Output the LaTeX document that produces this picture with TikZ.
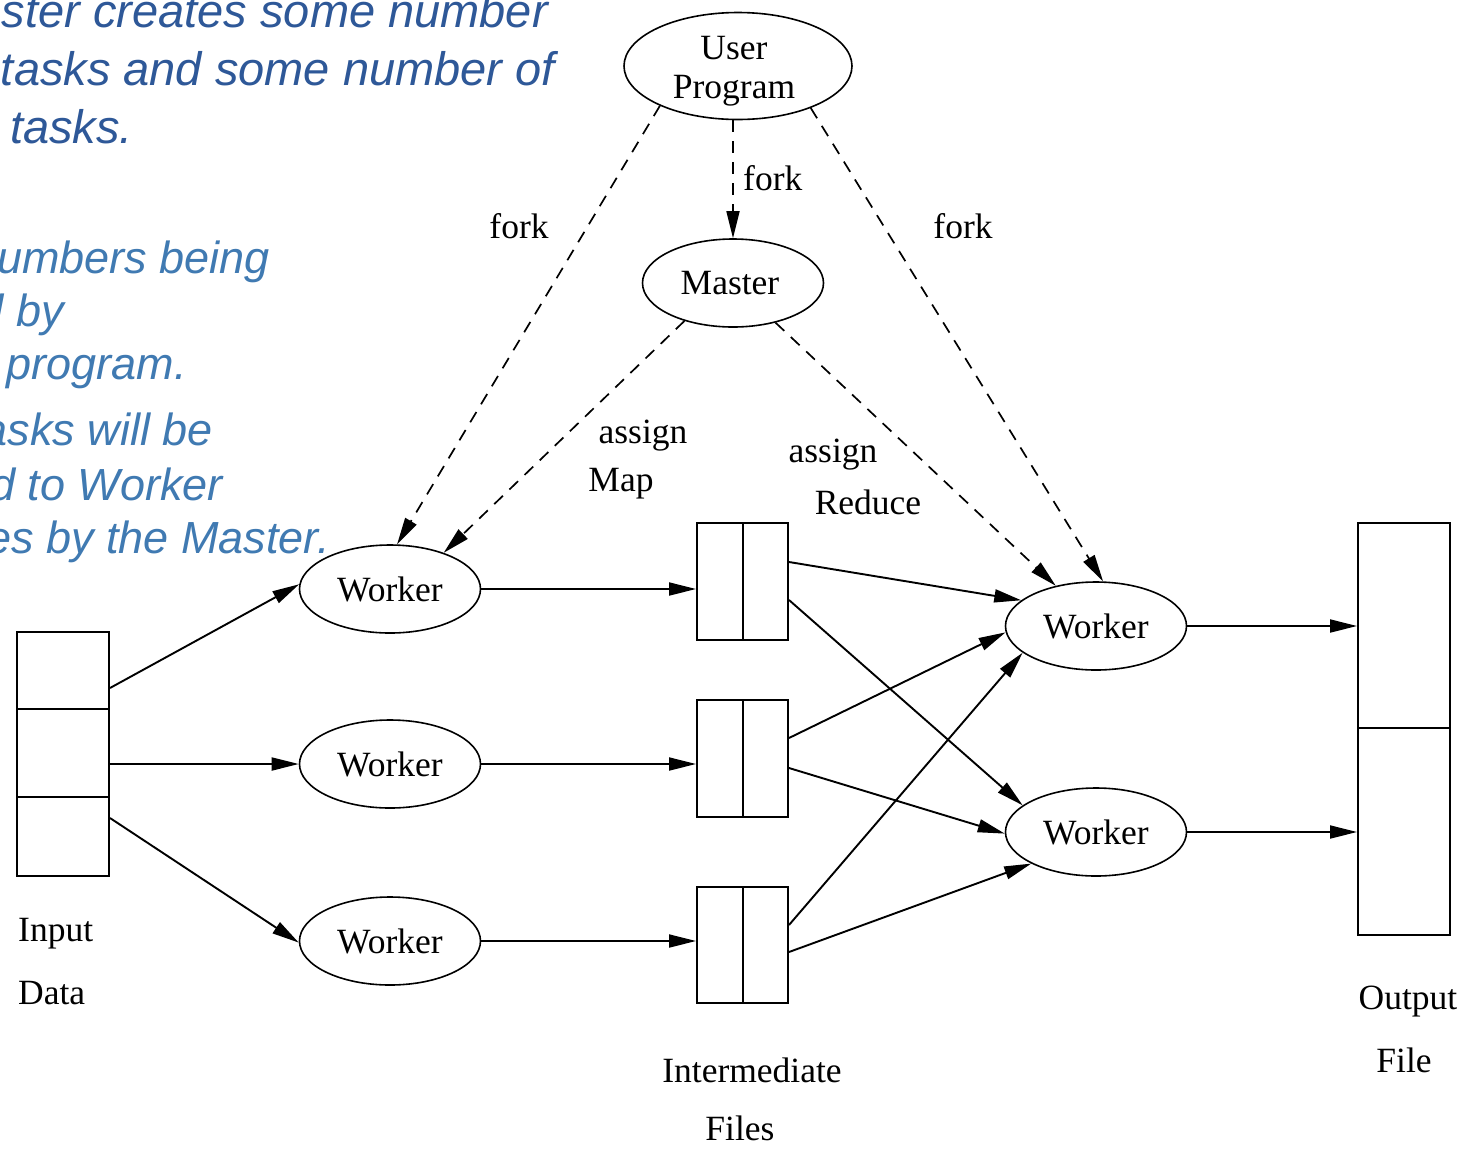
\documentclass[tikz,border=0pt]{standalone}
\usepackage{fontspec}
\setmainfont{Liberation Serif}
\newfontfamily\notefont{Liberation Sans}
\usetikzlibrary{arrows.meta,shapes.geometric}
\definecolor{noteblue}{RGB}{46,88,152}
\definecolor{notebluelight}{RGB}{64,122,178}

\begin{document}
\begin{tikzpicture}[x=1pt,y=-1pt,
  lbl/.style={font=\fontsize{35.5}{39}\selectfont, inner sep=0pt},
  proc/.style={draw, ellipse, line width=1.6pt, inner sep=0pt,
               minimum width=181pt, minimum height=88pt,
               font=\fontsize{35.5}{39}\selectfont},
  store/.style={draw, rectangle, line width=2pt, inner sep=0pt, minimum width=91pt},
  flow/.style={line width=1.9pt, -{Triangle[length=27pt,width=13pt]}},
  ctrl/.style={line width=1.7pt, dash pattern=on 12pt off 9pt,
               -{Triangle[length=27pt,width=13pt]}},
  note/.style={anchor=base east, inner sep=0pt,
               font=\notefont\itshape\fontsize{47}{56}\selectfont, text=noteblue},
  notelow/.style={note, font=\notefont\itshape\fontsize{45}{54}\selectfont, text=notebluelight}
]
\useasboundingbox (0,0) rectangle (1470,1152);
\clip (0,0) rectangle (1470,1152);
\fill[white] (0,0) rectangle (1470,1152);

% explanatory notes on the left
\node[note] (n1) at (548,27)  {ster creates some number};
\node[note] (n2) at (555,85)  {tasks and some number of};
\node[note] (n3) at (133,143) {tasks.};
\node[notelow] (n4) at (270,273) {umbers being};
\node[notelow] (n5) at (64,326)  {d by};
\node[notelow] (n6) at (187,379) {program.};
\node[notelow] (n7) at (213,445) {asks will be};
\node[notelow] (n8) at (223,500) {d to Worker};
\node[notelow] (n9) at (330,553) {es by the Master.};

% processes
\node[proc, minimum width=228pt, minimum height=107pt] (up) at (738,66) {};
\node[lbl, align=center] (uptext) at (734,71) {User\\Program};
\node[proc] (master) at (733,283) {\hspace*{-6pt}Master};
\node[proc] (w1) at (390,589) {Worker};
\node[proc] (w2) at (390,764) {Worker};
\node[proc] (w3) at (390,941) {Worker};
\node[proc] (r1) at (1096,626) {Worker};
\node[proc] (r2) at (1096,832) {Worker};

% input data
\node[store, minimum width=92pt, minimum height=77pt] (in1) at (63,670.5) {};
\node[store, minimum width=92pt, minimum height=88pt] (in2) at (63,753) {};
\node[store, minimum width=92pt, minimum height=79pt] (in3) at (63,836.5) {};

% intermediate files
\node[store, minimum height=117pt] (f1) at (742.5,581.5) {};
\node[store, minimum height=117pt] (f2) at (742.5,758.5) {};
\node[store, minimum height=116pt] (f3) at (742.5,945) {};
\foreach \f in {f1,f2,f3} \draw[line width=2pt] (\f.north) -- (\f.south);

% output file
\node[store, minimum width=92pt, minimum height=205pt] (out1) at (1404,625.5) {};
\node[store, minimum width=92pt, minimum height=207pt] (out2) at (1404,831.5) {};

% fork and assign
\draw[ctrl] (up.south -| master.north) -- (master.north);
\draw[ctrl] (up.207) -- (w1.81);
\draw[ctrl] (up.330) -- (r1.81);
\draw[ctrl] (master.218) -- (w1.34);
\draw[ctrl] (master.317) -- (r1.135);

\node[lbl] (lfork1) at (519,226) {fork};
\node[lbl, anchor=west] (lfork2) at (743,178) {fork};
\node[lbl] (lfork3) at (963,226) {fork};
\node[lbl] (lassign1) at (643,436) {assign};
\node[lbl] (lmap) at (621,484) {Map};
\node[lbl] (lassign2) at (833,455) {assign};
\node[lbl] (lreduce) at (868,502) {Reduce};

% map phase
\draw[flow] ([yshift=-17.5pt]in1.east) -- (w1.177);
\draw[flow] (w2.west -| in2.east) -- (w2.west);
\draw[flow] ([yshift=18.5pt]in3.east) -- (w3.181);
\draw[flow] (w1.east) -- (w1.east -| f1.west);
\draw[flow] (w2.east) -- (w2.east -| f2.west);
\draw[flow] (w3.east) -- (w3.east -| f3.west);

% shuffle to reduce workers
\draw[flow] ([yshift=19.5pt]f1.east) -- (r1.161);
\draw[flow] ([yshift=-18.5pt]f1.east) -- (r2.160);
\draw[flow] ([yshift=20.5pt]f2.east) -- (r1.184);
\draw[flow] ([yshift=-9.5pt]f2.east) -- (r2.181);
\draw[flow] ([yshift=20pt]f3.east) -- (r1.200);
\draw[flow] ([yshift=-7pt]f3.east) -- (r2.206);

% reduce output
\draw[flow] (r1.east) -- (r1.east -| out1.west);
\draw[flow] (r2.east) -- (r2.east -| out2.west);

% captions
\node[lbl, anchor=west] (lin1) at (18,934) {Input};
\node[lbl, anchor=west] (lin2) at (18,993) {Data};
\node[lbl] (lmid1) at (752,1070) {Intermediate};
\node[lbl] (lmid2) at (740,1128) {Files};
\node[lbl] (lout1) at (1408,1002) {Output};
\node[lbl] (lout2) at (1404,1060) {File};
\end{tikzpicture}
\end{document}
